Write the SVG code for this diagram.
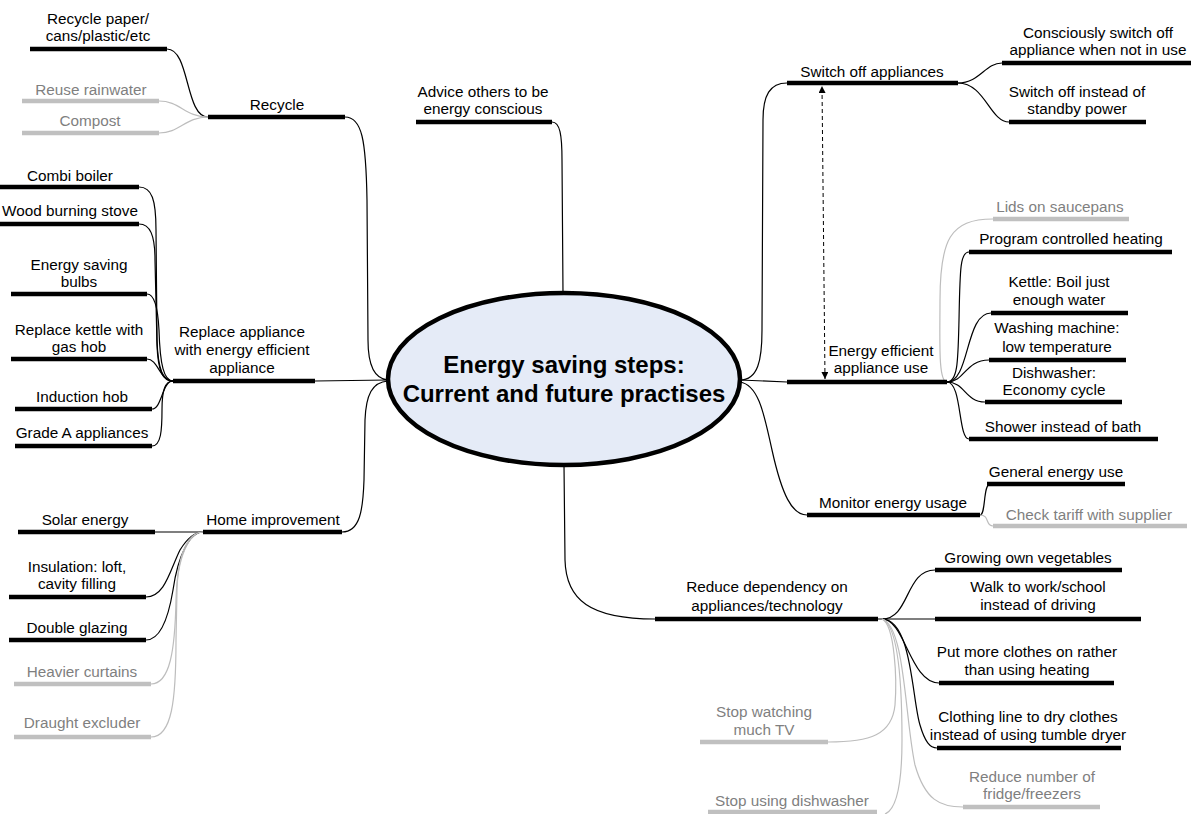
<svg xmlns="http://www.w3.org/2000/svg" width="1197" height="814" viewBox="0 0 1197 814">
<style>
.bar{stroke:#000;stroke-width:4.5;fill:none}
.bar.g{stroke:#c0c0c0}
.t{font-family:"Liberation Sans",Arial,sans-serif;font-size:15.3px;fill:#000;text-anchor:middle}
.t.g{fill:#7f7f7f}
.c{fill:none;stroke:#000;stroke-width:1.2}
.c.g{stroke:#bdbdbd}
.ct{font-family:"Liberation Sans",Arial,sans-serif;font-size:24px;font-weight:bold;fill:#000;text-anchor:middle}
</style>
<defs>
<marker id="ah" viewBox="0 0 10 10" refX="10" refY="5" markerWidth="8" markerHeight="7" markerUnits="userSpaceOnUse" orient="auto-start-reverse">
<path d="M0,0 L10,5 L0,10 z" fill="#000"/>
</marker>
</defs>
<rect width="1197" height="814" fill="#fff"/>

<g id="connectors">
<path class="c" d="M345,117 C362,117 366,140 367,200 L368,340 C368,365 375,379 388,380"/>
<path class="c" d="M315,381 L388,380"/>
<path class="c" d="M342,532 C360,532 363,510 364,480 L365,420 C366,395 372,382 388,381"/>
<path class="c" d="M552,122 C560,122 562,135 562,160 L563,293"/>
<path class="c" d="M740,380 C758,380 762,360 762,330 L763,120 C763,95 770,83 787,83"/>
<path class="c" d="M740,380 L787,382"/>
<path class="c" d="M740,382 C760,385 765,420 772,450 C782,495 792,515 807,515"/>
<path class="c" d="M564,465 L565,560 C566,600 590,619 655,619"/>
<path class="c" d="M167,49 C190,49 185,117 208,117"/>
<path class="c g" d="M159,101 C180,101 185,117 208,117"/>
<path class="c g" d="M159,133 C180,133 185,117 208,117"/>
<path class="c" d="M139,187 C152,187 156,200 156,230 L157,340 C158,370 163,381 173,381"/>
<path class="c" d="M139,224 C150,224 155,235 155,260 L157,345 C158,372 163,381 173,381"/>
<path class="c" d="M147,294 C155,294 158,310 159,330 C160,365 164,381 173,381"/>
<path class="c" d="M147,359 C158,359 160,381 173,381"/>
<path class="c" d="M152,409 C162,409 162,381 173,381"/>
<path class="c" d="M152,446 C161,446 162,430 162,410 C162,390 165,381 173,381"/>
<path class="c" d="M155,532 L203,532"/>
<path class="c" d="M146,597 C165,597 170,570 180,550 C188,537 195,532 203,532"/>
<path class="c" d="M146,640 C160,640 168,620 173,590 C178,555 190,532 203,532"/>
<path class="c g" d="M151,684 C170,684 175,650 176,600 C177,555 190,532 203,532"/>
<path class="c g" d="M151,737 C172,737 176,700 176,640 L177,590 C178,550 190,532 203,532"/>
<path class="c" d="M958,83 C980,83 985,63 1002,63"/>
<path class="c" d="M958,83 C985,83 990,122 1009,122"/>
<path class="c g" d="M947,382 C938,382 940,340 940,300 C940,240 950,219 993,219"/>
<path class="c" d="M947,382 C958,382 958,360 959,320 C960,270 960,252 969,252"/>
<path class="c" d="M947,382 C970,382 965,313 991,313"/>
<path class="c" d="M947,382 C965,382 965,360 989,360"/>
<path class="c" d="M947,382 C965,382 965,402 985,402"/>
<path class="c" d="M947,382 C962,382 958,439 969,439"/>
<path class="c" d="M980,515 C986,515 983,484 990,484"/>
<path class="c g" d="M980,515 C990,515 985,526 993,526"/>
<path class="c" d="M882,619 C910,619 905,570 935,570"/>
<path class="c" d="M878,619 L935,619"/>
<path class="c" d="M882,619 C905,619 910,683 939,683"/>
<path class="c" d="M882,619 C912,619 912,700 920,725 C925,742 930,748 937,748"/>
<path class="c g" d="M882,619 C905,625 905,720 915,765 C925,800 940,807 963,807"/>
<path class="c g" d="M882,619 C895,625 897,680 895,705 C892,735 870,742 828,742"/>
<path class="c g" d="M882,619 C898,625 902,680 902,740 C902,790 895,810 885,814"/>
<path d="M825,379 L822,86" fill="none" stroke="#000" stroke-width="1" stroke-dasharray="4,3" marker-start="url(#ah)" marker-end="url(#ah)"/>
</g>

<g id="center">
<ellipse cx="564" cy="379" rx="176" ry="86" fill="#e5ebf7" stroke="#000" stroke-width="4.5"/>
<text class="ct" x="564" y="373">Energy saving steps:</text>
<text class="ct" x="564" y="402">Current and future practises</text>
</g>

<g id="recycle"><path class="bar" d="M208,117 H345"/><text class="t" x="277" y="110">Recycle</text></g>
<g id="recycle-paper"><path class="bar" d="M30,49 H167"/><text class="t" x="98" y="24">Recycle paper/</text><text class="t" x="98" y="41">cans/plastic/etc</text></g>
<g id="reuse-rainwater"><path class="bar g" d="M22,101 H159"/><text class="t g" x="91" y="95">Reuse rainwater</text></g>
<g id="compost"><path class="bar g" d="M22,133 H159"/><text class="t g" x="90" y="126">Compost</text></g>

<g id="replace"><path class="bar" d="M173,381 H315"/><text class="t" x="242" y="337">Replace appliance</text><text class="t" x="242" y="355">with energy efficient</text><text class="t" x="242" y="373">appliance</text></g>
<g id="combi"><path class="bar" d="M0,187 H139"/><text class="t" x="70" y="181">Combi boiler</text></g>
<g id="wood"><path class="bar" d="M0,224 H139"/><text class="t" x="70" y="216">Wood burning stove</text></g>
<g id="bulbs"><path class="bar" d="M11,294 H147"/><text class="t" x="79" y="270">Energy saving</text><text class="t" x="79" y="287">bulbs</text></g>
<g id="kettle-gas"><path class="bar" d="M11,359 H147"/><text class="t" x="79" y="335">Replace kettle with</text><text class="t" x="79" y="352">gas hob</text></g>
<g id="induction"><path class="bar" d="M15,409 H152"/><text class="t" x="82" y="402">Induction hob</text></g>
<g id="grade-a"><path class="bar" d="M15,446 H152"/><text class="t" x="82" y="438">Grade A appliances</text></g>

<g id="home"><path class="bar" d="M203,532 H342"/><text class="t" x="273" y="525">Home improvement</text></g>
<g id="solar"><path class="bar" d="M18,532 H155"/><text class="t" x="85" y="525">Solar energy</text></g>
<g id="insulation"><path class="bar" d="M9,597 H146"/><text class="t" x="77" y="572">Insulation: loft,</text><text class="t" x="77" y="589">cavity filling</text></g>
<g id="double-glazing"><path class="bar" d="M9,640 H146"/><text class="t" x="77" y="633">Double glazing</text></g>
<g id="curtains"><path class="bar g" d="M14,684 H151"/><text class="t g" x="82" y="677">Heavier curtains</text></g>
<g id="draught"><path class="bar g" d="M14,737 H151"/><text class="t g" x="82" y="728">Draught excluder</text></g>

<g id="advice"><path class="bar" d="M416,122 H552"/><text class="t" x="483" y="97">Advice others to be</text><text class="t" x="483" y="114">energy conscious</text></g>

<g id="switch-off"><path class="bar" d="M787,83 H958"/><text class="t" x="872" y="77">Switch off appliances</text></g>
<g id="consciously"><path class="bar" d="M1002,63 H1191"/><text class="t" x="1098" y="38">Consciously switch off</text><text class="t" x="1098" y="55">appliance when not in use</text></g>
<g id="standby"><path class="bar" d="M1009,122 H1146"/><text class="t" x="1077" y="97">Switch off instead of</text><text class="t" x="1077" y="114">standby power</text></g>

<g id="efficient-use"><path class="bar" d="M787,382 H947"/><text class="t" x="881" y="356">Energy efficient</text><text class="t" x="881" y="373">appliance use</text></g>
<g id="lids"><path class="bar g" d="M993,219 H1129"/><text class="t g" x="1060" y="212">Lids on saucepans</text></g>
<g id="program"><path class="bar" d="M969,252 H1172"/><text class="t" x="1071" y="244">Program controlled heating</text></g>
<g id="kettle"><path class="bar" d="M991,313 H1128"/><text class="t" x="1059" y="287">Kettle: Boil just</text><text class="t" x="1059" y="305">enough water</text></g>
<g id="washing"><path class="bar" d="M989,360 H1126"/><text class="t" x="1057" y="333">Washing machine:</text><text class="t" x="1057" y="352">low temperature</text></g>
<g id="dishwasher"><path class="bar" d="M985,402 H1122"/><text class="t" x="1054" y="378">Dishwasher:</text><text class="t" x="1054" y="395">Economy cycle</text></g>
<g id="shower"><path class="bar" d="M969,439 H1158"/><text class="t" x="1063" y="432">Shower instead of bath</text></g>

<g id="monitor"><path class="bar" d="M807,515 H980"/><text class="t" x="893" y="508">Monitor energy usage</text></g>
<g id="general"><path class="bar" d="M987,484 H1125"/><text class="t" x="1056" y="477">General energy use</text></g>
<g id="tariff"><path class="bar g" d="M993,526 H1187"/><text class="t g" x="1089" y="520">Check tariff with supplier</text></g>

<g id="reduce"><path class="bar" d="M655,619 H878"/><text class="t" x="767" y="592">Reduce dependency on</text><text class="t" x="767" y="611">appliances/technology</text></g>
<g id="growing"><path class="bar" d="M935,570 H1122"/><text class="t" x="1028" y="563">Growing own vegetables</text></g>
<g id="walk"><path class="bar" d="M935,619 H1141"/><text class="t" x="1038" y="592">Walk to work/school</text><text class="t" x="1038" y="610">instead of driving</text></g>
<g id="clothes"><path class="bar" d="M939,683 H1114"/><text class="t" x="1027" y="657">Put more clothes on rather</text><text class="t" x="1027" y="675">than using heating</text></g>
<g id="clothing-line"><path class="bar" d="M937,748 H1121"/><text class="t" x="1028" y="722">Clothing line to dry clothes</text><text class="t" x="1028" y="740">instead of using tumble dryer</text></g>
<g id="fridge"><path class="bar g" d="M963,807 H1100"/><text class="t g" x="1032" y="782">Reduce number of</text><text class="t g" x="1032" y="799">fridge/freezers</text></g>
<g id="tv"><path class="bar g" d="M700,742 H828"/><text class="t g" x="764" y="717">Stop watching</text><text class="t g" x="764" y="735">much TV</text></g>
<g id="stop-dishwasher"><path class="bar g" d="M708,812 H877"/><text class="t g" x="792" y="806">Stop using dishwasher</text></g>
</svg>
